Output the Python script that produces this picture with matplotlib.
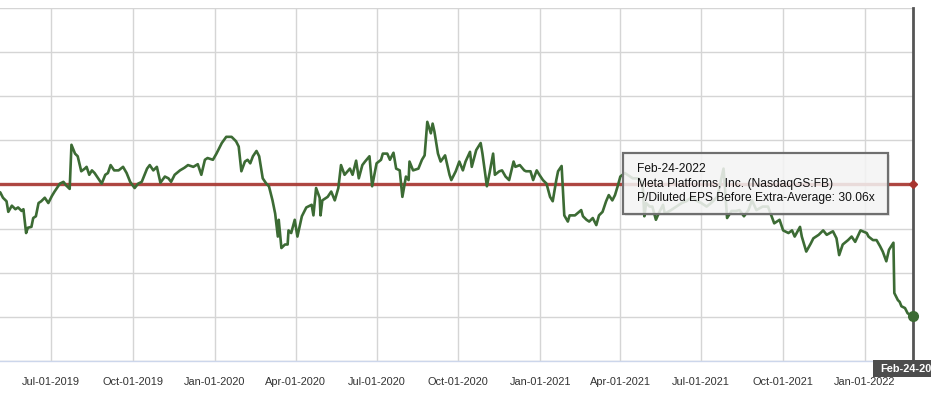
import matplotlib
matplotlib.use("Agg")
import matplotlib.pyplot as plt
import matplotlib.dates as mdates
import pandas as pd
from matplotlib.patches import Rectangle

plt.rcParams['font.family'] = ['Liberation Sans', 'DejaVu Sans']

# ---------------- data ----------------
dates = [
    "2019-05-01", "2019-05-05", "2019-05-08", "2019-05-12", "2019-05-14", "2019-05-18", "2019-05-22",
    "2019-05-25", "2019-05-29", "2019-05-31", "2019-06-03", "2019-06-05", "2019-06-09", "2019-06-11",
    "2019-06-14", "2019-06-17", "2019-06-20", "2019-06-24", "2019-06-28", "2019-07-02", "2019-07-05",
    "2019-07-11", "2019-07-15", "2019-07-18", "2019-07-22", "2019-07-24", "2019-07-28", "2019-07-31",
    "2019-08-04", "2019-08-08", "2019-08-10", "2019-08-13", "2019-08-16", "2019-08-19", "2019-08-23",
    "2019-08-27", "2019-08-31", "2019-09-03", "2019-09-06", "2019-09-10", "2019-09-15", "2019-09-20",
    "2019-09-24", "2019-09-28", "2019-10-03", "2019-10-07", "2019-10-11", "2019-10-17", "2019-10-20",
    "2019-10-24", "2019-10-28", "2019-11-01", "2019-11-06", "2019-11-10", "2019-11-13", "2019-11-17",
    "2019-11-23", "2019-11-28", "2019-12-02", "2019-12-08", "2019-12-13", "2019-12-17", "2019-12-21",
    "2019-12-24", "2019-12-30", "2020-01-03", "2020-01-09", "2020-01-14", "2020-01-20", "2020-01-25",
    "2020-01-28", "2020-01-31", "2020-02-04", "2020-02-07", "2020-02-10", "2020-02-13", "2020-02-17",
    "2020-02-20", "2020-02-24", "2020-02-28", "2020-03-02", "2020-03-06", "2020-03-09", "2020-03-12",
    "2020-03-13", "2020-03-16", "2020-03-20", "2020-03-23", "2020-03-24", "2020-03-27", "2020-03-31",
    "2020-04-03", "2020-04-08", "2020-04-13", "2020-04-19", "2020-04-21", "2020-04-24", "2020-04-28",
    "2020-04-29", "2020-05-01", "2020-05-07", "2020-05-11", "2020-05-15", "2020-05-19", "2020-05-22",
    "2020-05-26", "2020-06-01", "2020-06-04", "2020-06-08", "2020-06-11", "2020-06-15", "2020-06-18",
    "2020-06-23", "2020-06-26", "2020-07-01", "2020-07-06", "2020-07-08", "2020-07-13", "2020-07-16",
    "2020-07-20", "2020-07-23", "2020-07-27", "2020-07-30", "2020-08-03", "2020-08-06", "2020-08-07",
    "2020-08-11", "2020-08-17", "2020-08-21", "2020-08-24", "2020-08-27", "2020-08-31", "2020-09-02",
    "2020-09-04", "2020-09-08", "2020-09-11", "2020-09-16", "2020-09-21", "2020-09-23", "2020-09-28",
    "2020-10-02", "2020-10-06", "2020-10-09", "2020-10-14", "2020-10-16", "2020-10-21", "2020-10-26",
    "2020-10-28", "2020-10-30", "2020-11-02", "2020-11-05", "2020-11-09", "2020-11-11", "2020-11-16",
    "2020-11-19", "2020-11-23", "2020-11-27", "2020-12-02", "2020-12-04", "2020-12-09", "2020-12-14",
    "2020-12-16", "2020-12-21", "2020-12-24", "2020-12-28", "2020-12-31", "2021-01-04", "2021-01-08",
    "2021-01-12", "2021-01-15", "2021-01-19", "2021-01-21", "2021-01-25", "2021-01-28", "2021-02-01",
    "2021-02-03", "2021-02-09", "2021-02-16", "2021-02-18", "2021-02-22", "2021-02-25", "2021-03-01",
    "2021-03-05", "2021-03-08", "2021-03-12", "2021-03-16", "2021-03-19", "2021-03-23", "2021-03-26",
    "2021-03-29", "2021-04-01", "2021-04-06", "2021-04-12", "2021-04-15", "2021-04-21", "2021-04-26",
    "2021-04-28", "2021-04-30", "2021-05-04", "2021-05-07", "2021-05-11", "2021-05-14", "2021-05-19",
    "2021-05-21", "2021-05-28", "2021-06-03", "2021-06-09", "2021-06-14", "2021-06-21", "2021-06-25",
    "2021-07-01", "2021-07-07", "2021-07-12", "2021-07-19", "2021-07-26", "2021-07-27", "2021-07-30",
    "2021-08-04", "2021-08-09", "2021-08-13", "2021-08-18", "2021-08-23", "2021-08-27", "2021-09-01",
    "2021-09-08", "2021-09-14", "2021-09-17", "2021-09-21", "2021-09-27", "2021-10-01", "2021-10-07",
    "2021-10-11", "2021-10-14", "2021-10-20", "2021-10-22", "2021-10-27", "2021-11-01", "2021-11-04",
    "2021-11-10", "2021-11-15", "2021-11-19", "2021-11-26", "2021-11-30", "2021-12-03", "2021-12-07",
    "2021-12-13", "2021-12-17", "2021-12-21", "2021-12-27", "2022-01-03", "2022-01-05", "2022-01-10",
    "2022-01-14", "2022-01-18", "2022-01-21", "2022-01-25", "2022-01-28", "2022-02-02", "2022-02-03",
    "2022-02-07", "2022-02-09", "2022-02-11", "2022-02-15", "2022-02-18", "2022-02-24",
]
pe = [
    29.3, 29.1, 28.5, 28.1, 26.9, 27.6, 27.2,
    27.4, 27.0, 27.2, 24.5, 25.1, 25.2, 26.2,
    26.4, 27.9, 28.1, 28.5, 27.9, 28.7, 29.2,
    30.1, 30.3, 29.9, 29.5, 34.5, 33.5, 33.2,
    31.5, 31.8, 32.0, 31.1, 31.6, 31.3, 30.7,
    30.1, 31.1, 31.3, 32.2, 31.6, 31.6, 32.0,
    31.3, 30.3, 29.6, 30.1, 30.3, 31.8, 32.2,
    31.6, 32.0, 30.2, 30.9, 30.7, 30.3, 31.1,
    31.6, 31.9, 32.2, 32.0, 32.3, 31.1, 32.8,
    33.0, 32.8, 33.5, 34.7, 35.4, 35.4, 34.9,
    34.3, 31.5, 32.6, 32.8, 32.4, 33.2, 33.8,
    33.2, 30.7, 30.1, 29.8, 28.2, 26.7, 24.1,
    26.0, 22.8, 23.2, 23.2, 24.8, 24.5, 26.0,
    24.1, 26.4, 27.4, 27.7, 26.5, 29.6, 28.5,
    26.5, 28.2, 28.6, 29.2, 28.2, 29.6, 32.2,
    31.1, 31.8, 31.1, 32.7, 30.7, 32.2, 32.6,
    33.2, 29.8, 32.4, 32.8, 33.5, 33.5, 32.8,
    33.6, 31.8, 31.6, 28.6, 30.9, 30.5, 32.6,
    31.6, 31.8, 32.8, 33.3, 37.1, 35.8, 36.9,
    36.0, 33.5, 32.6, 33.3, 31.1, 30.5, 31.5,
    32.6, 31.6, 32.6, 33.7, 32.0, 33.9, 34.7,
    33.5, 32.0, 29.8, 31.3, 33.5, 31.1, 31.5,
    31.6, 30.9, 30.5, 32.6, 32.0, 32.2, 31.6,
    31.5, 31.5, 30.5, 31.6, 31.1, 30.5, 30.1,
    28.6, 28.1, 30.5, 31.5, 32.1, 26.5, 25.8,
    26.5, 26.5, 27.1, 26.4, 26.0, 25.8, 26.2,
    25.4, 26.5, 26.9, 28.1, 28.8, 28.2, 28.8,
    29.8, 30.9, 31.3, 30.9, 30.7, 30.7, 30.1,
    26.4, 27.9, 27.5, 27.5, 26.0, 26.7, 27.7,
    26.7, 27.1, 27.5, 27.9, 28.1, 28.6, 28.2,
    27.9, 27.5, 27.9, 28.6, 31.8, 30.5, 26.2,
    27.0, 27.0, 27.1, 26.4, 27.1, 28.2, 27.1,
    27.5, 27.5, 26.7, 25.6, 26.0, 24.8, 24.5,
    24.8, 24.1, 25.2, 24.1, 22.4, 23.3, 23.9,
    24.3, 24.8, 24.3, 24.7, 23.9, 22.0, 23.2,
    23.7, 24.1, 23.5, 24.8, 24.5, 24.1, 23.7,
    23.7, 23.0, 22.4, 21.3, 22.6, 23.4, 17.7,
    16.9, 16.7, 16.2, 16.0, 15.4, 15.1,
]
average = 30.06
tick_dates = ["2019-04-01", "2019-07-01", "2019-10-01", "2020-01-01", "2020-04-01",
              "2020-07-01", "2020-10-01", "2021-01-01", "2021-04-01", "2021-07-01",
              "2021-10-01", "2022-01-01"]
y_grid = [10, 15, 20, 25, 30, 35, 40, 45, 50]
tooltip_lines = ["Feb-24-2022", "Meta Platforms, Inc. (NasdaqGS:FB)",
                 "P/Diluted EPS Before Extra-Average: 30.06x"]
crosshair_label = "Feb-24-2022"

# ---------------- figure ----------------
W, H = 931, 398
fig = plt.figure(figsize=(W / 100, H / 100), dpi=100)

x = pd.to_datetime(dates)
x_start = pd.Timestamp("2019-03-01")
x_end = pd.Timestamp("2022-02-24")
px_per_day = 862 / 969
right_px, top_px, bottom_px = 913, 8, 361
left_px = right_px - (x_end - x_start).days * px_per_day
ax = fig.add_axes([left_px / W, 1 - bottom_px / H, (right_px - left_px) / W, (bottom_px - top_px) / H])

green = "#3c6b34"
red = "#a8352f"

ax.set_xlim(x_start, x_end)
ax.set_ylim(10, 50)
ax.set_yticks(y_grid)
ax.set_xticks(pd.to_datetime(tick_dates))
ax.xaxis.set_major_formatter(mdates.DateFormatter("%b-%d-%Y"))
ax.tick_params(axis="x", length=0, pad=11.5, labelsize=7.9, labelcolor="#333333")
ax.tick_params(axis="y", length=0, labelleft=False)
ax.grid(True, color="#d5d5d5", lw=1.0, zorder=0)
ax.set_axisbelow(True)
for s in ["top", "left", "right"]:
    ax.spines[s].set_visible(False)
ax.spines["bottom"].set_color("#ccd6eb")
ax.spines["bottom"].set_linewidth(1.0)

ax.axhline(average, color=red, lw=2.4, alpha=0.9, zorder=3)
ax.plot(x, pe, color=green, lw=1.9, zorder=4, solid_joinstyle="round")
ax.plot([x[-1]], [pe[-1]], "o", color=green, ms=7, zorder=6, clip_on=False)
ax.plot([x_end], [average], "D", color=red, ms=4, zorder=6, clip_on=False)
ax.axvline(x_end, color="#555555", lw=2, zorder=5, clip_on=False)

# tooltip
tx0, tx1, ty0, ty1 = 622.7, 888.3, 153.3, 214.0
fig.add_artist(Rectangle(((tx0 + 2) / W, 1 - (ty1 + 2) / H), (tx1 - tx0) / W, (ty1 - ty0) / H,
                         transform=fig.transFigure, facecolor=(0, 0, 0, 0.08), edgecolor="none", zorder=8))
fig.add_artist(Rectangle((tx0 / W, 1 - ty1 / H), (tx1 - tx0) / W, (ty1 - ty0) / H,
                         transform=fig.transFigure, facecolor=(0.97, 0.97, 0.97, 0.85),
                         edgecolor="#6f6f6f", lw=1.6, zorder=9))
for i, line in enumerate(tooltip_lines):
    fig.text(637.3 / W, 1 - (169.3 + 14.2 * i) / H, line, fontsize=8.64, color="#111111",
             va="center", ha="left", zorder=10)

# crosshair label at bottom right
fig.add_artist(Rectangle((873 / W, 1 - 377 / H), 80 / W, 17 / H, transform=fig.transFigure,
                         facecolor="#4d4d4d", edgecolor="none", zorder=8))
fig.text(880.5 / W, 1 - 369 / H, crosshair_label, fontsize=7.9, color="white", weight="bold",
         va="center", ha="left", zorder=10)

fig.savefig("out.png", dpi=100)
